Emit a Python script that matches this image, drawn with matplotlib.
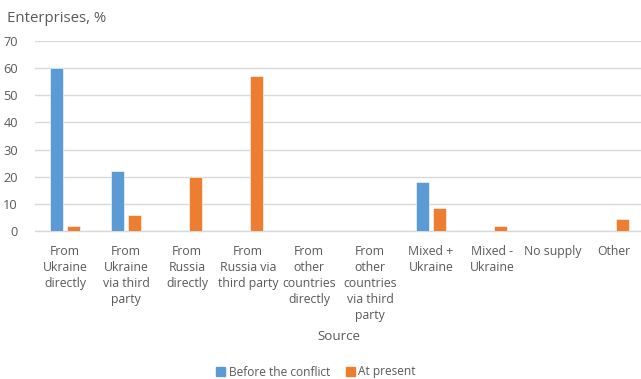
import numpy as np
import matplotlib
matplotlib.use("Agg")
import matplotlib.pyplot as plt
from matplotlib.patches import Patch

categories = [
    "From\nUkraine\ndirectly",
    "From\nUkraine\nvia third\nparty",
    "From\nRussia\ndirectly",
    "From\nRussia via\nthird party",
    "From\nother\ncountries\ndirectly",
    "From\nother\ncountries\nvia third\nparty",
    "Mixed +\nUkraine",
    "Mixed -\nUkraine",
    "No supply",
    "Other",
]
before_conflict = [60, 22, 0, 0, 0, 0, 18, 0, 0, 0]
at_present = [2, 6, 20, 57, 0, 0, 8.5, 2, 0, 4.5]
yticks = [0, 10, 20, 30, 40, 50, 60, 70]

BLUE = "#5B9BD5"
ORANGE = "#ED7D31"
TEXT = "#595959"
GRID = "#D9D9D9"

plt.rcParams["font.family"] = ["Open Sans", "DejaVu Sans"]

fig = plt.figure(figsize=(6.41, 3.79), dpi=100)
ax = fig.add_axes([34.5 / 641, 1 - 231 / 379, 610 / 641, 190 / 379])

x = np.arange(len(categories))
w = 0.22
ax.bar(x - 0.14, before_conflict, w, color=BLUE, edgecolor="white", linewidth=0.4, zorder=3)
ax.bar(x + 0.14, at_present, w, color=ORANGE, edgecolor="white", linewidth=0.4, zorder=3)

ax.set_xlim(-0.5, 9.5)
ax.set_ylim(0, 70)
ax.set_yticks(yticks)
ax.yaxis.grid(True, color=GRID, linewidth=1.0, zorder=0)
ax.set_axisbelow(True)
for s in ["top", "right", "left"]:
    ax.spines[s].set_visible(False)
ax.spines["bottom"].set_color(GRID)
ax.spines["bottom"].set_linewidth(1.0)

ax.set_xticks(x)
ax.set_xticklabels(categories, fontsize=8.8, color=TEXT, linespacing=1.3, va="top")
ax.tick_params(axis="x", length=0, pad=10)
ax.tick_params(axis="y", length=0, pad=12, labelsize=9.2, labelcolor=TEXT)

fig.text(7 / 641, 1 - 19 / 379, "Enterprises, %", fontsize=10.8, color=TEXT, va="center", ha="left")
fig.text(339 / 641, 1 - 337 / 379, "Source", fontsize=9.6, color=TEXT, va="center", ha="center")

handles = [Patch(color=BLUE), Patch(color=ORANGE)]
fig.legend(handles, ["Before the conflict", "At present"], loc="center",
           bbox_to_anchor=(316 / 641, 1 - 372 / 379), ncol=2, frameon=False,
           fontsize=8.6, labelcolor=TEXT, handlelength=0.75, handleheight=0.75,
           handletextpad=0.3, columnspacing=1.3)

fig.savefig("out.png", dpi=100)
